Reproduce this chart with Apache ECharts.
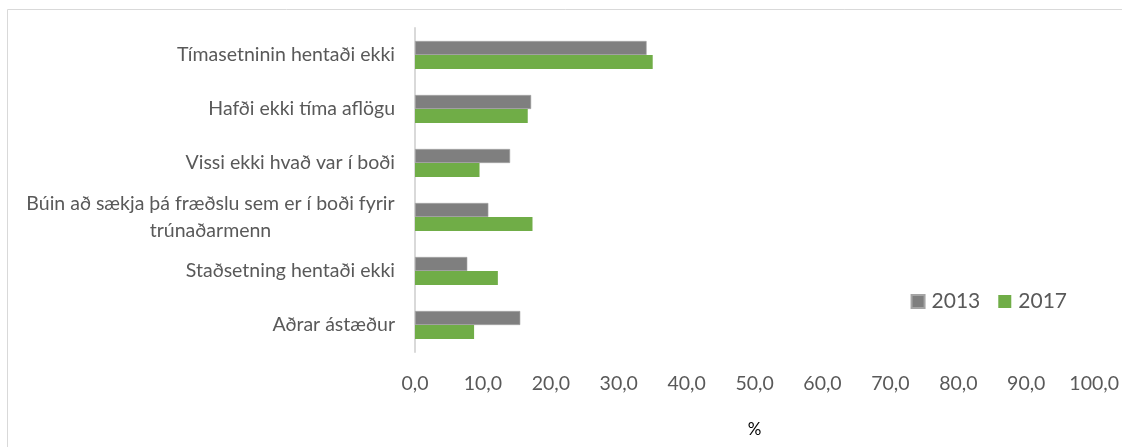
<!DOCTYPE html>
<html><head><meta charset="utf-8">
<script src="https://cdn.jsdelivr.net/npm/echarts@6/dist/echarts.min.js"></script>
<style>html,body{margin:0;padding:0;background:#fff}#c{width:1122px;height:447px}</style>
</head><body><div id="c"></div>
<script>
const categories = [
  "Tímasetninin hentaði ekki",
  "Hafði ekki tíma aflögu",
  "Vissi ekki hvað var í boði",
  "Búin að sækja þá fræðslu sem er í boði fyrir\ntrúnaðarmenn",
  "Staðsetning hentaði ekki",
  "Aðrar ástæður"
];
const values2013 = [34.1, 17.1, 14.0, 10.8, 7.7, 15.5];
const values2017 = [35.0, 16.6, 9.5, 17.3, 12.2, 8.7];
const xTicks = [0, 10, 20, 30, 40, 50, 60, 70, 80, 90, 100];

const font = 'Lato, "Open Sans", sans-serif';
const labelSize = 19.5;
const cv = document.createElement('canvas').getContext('2d');
cv.font = labelSize + 'px Lato';
function lineW(s) { return Math.ceil(cv.measureText(s).width); }

const chart = echarts.init(document.getElementById('c'), null, {renderer: 'canvas'});
chart.setOption({
  animation: false,
  textStyle: {fontFamily: font},
  graphic: [{
    type: 'rect', shape: {x: 7.5, y: 9.5, width: 1200, height: 500},
    style: {fill: 'none', stroke: '#d9d9d9', lineWidth: 1}, silent: true
  }],
  grid: {left: 415, right: 26, top: 28, bottom: 95, containLabel: false},
  legend: {
    data: ['2013', '2017'], right: 50, top: 286, orient: 'horizontal',
    itemWidth: 13, itemHeight: 13, itemGap: 18, icon: 'rect',
    textStyle: {color: '#595959', fontSize: 21, fontFamily: font, padding: [0, 0, 0, 2]}
  },
  xAxis: {
    type: 'value', min: xTicks[0], max: xTicks[xTicks.length - 1], interval: 10,
    axisLine: {show: false}, axisTick: {show: false}, splitLine: {show: false},
    axisLabel: {color: '#595959', fontSize: 19.5, margin: 22,
      formatter: v => v.toFixed(1).replace('.', ',')},
    name: '%', nameLocation: 'middle', nameGap: 69,
    nameTextStyle: {color: '#000', fontSize: 17}
  },
  yAxis: {
    type: 'category', data: categories, inverse: true,
    axisLine: {show: true, lineStyle: {color: '#d9d9d9', width: 2}},
    axisTick: {show: false}, splitLine: {show: false},
    axisLabel: {color: '#595959', fontSize: labelSize, margin: 20, lineHeight: 27,
      formatter: v => {
        if (v.indexOf('\n') >= 0) {
          return v.split('\n').map(s => '{c|' + s + '}').join('\n');
        }
        return v;
      },
      rich: {c: {width: lineW(categories[3].split('\n')[0]), align: 'center', fontSize: labelSize, color: '#595959', lineHeight: 27}}
    }
  },
  series: [
    {name: '2013', type: 'bar', data: values2013, barWidth: 14, barGap: '0%',
      itemStyle: {color: '#7f7f7f', borderColor: '#a5a5a5', borderWidth: 0.6}},
    {name: '2017', type: 'bar', data: values2017, barWidth: 14, barGap: '0%',
      itemStyle: {color: '#70ad47'}}
  ]
});
</script></body></html>
